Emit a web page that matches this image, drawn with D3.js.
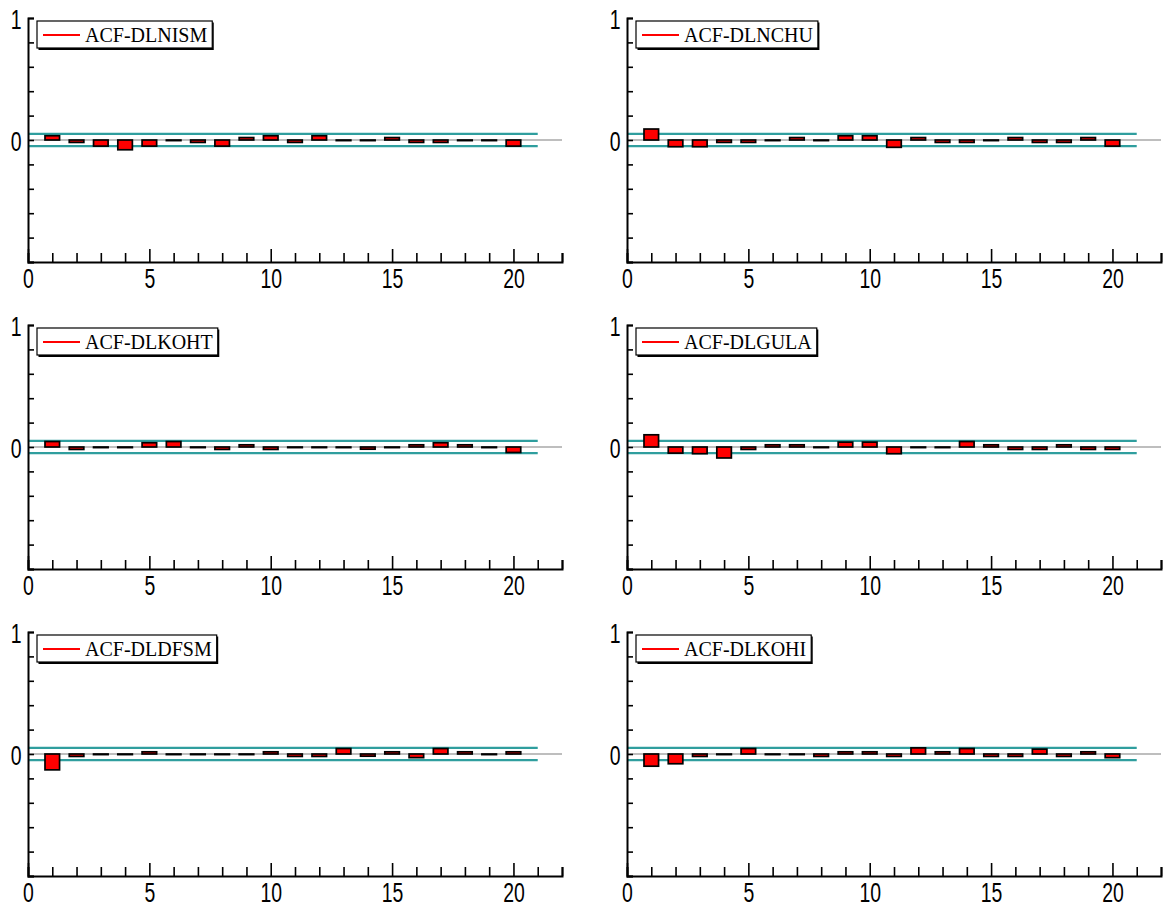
<!DOCTYPE html>
<html>
<head>
<meta charset="utf-8">
<script src="https://cdn.jsdelivr.net/npm/d3@7"></script>
<style>
html,body{margin:0;padding:0;background:#fff;}
svg{display:block;}
</style>
</head>
<body>
<svg id="chart" width="1164" height="909"></svg>
<script>
// ---- data ----
const lags = d3.range(1, 21);
const seriesNames = ["ACF-DLNISM", "ACF-DLNCHU", "ACF-DLKOHT", "ACF-DLGULA", "ACF-DLDFSM", "ACF-DLKOHI"];
const acfDLNISM = [0.035, -0.02, -0.05, -0.08, -0.05, -0.005, -0.02, -0.05, 0.02, 0.035, -0.02, 0.035, -0.005, -0.005, 0.02, -0.02, -0.02, -0.005, -0.005, -0.05];
const acfDLNCHU = [0.09, -0.055, -0.055, -0.02, -0.02, -0.005, 0.02, -0.005, 0.035, 0.035, -0.06, 0.02, -0.02, -0.02, -0.005, 0.02, -0.02, -0.02, 0.02, -0.05];
const acfDLKOHT = [0.045, -0.02, -0.005, -0.005, 0.035, 0.045, -0.005, -0.02, 0.018, -0.02, -0.005, -0.005, -0.005, -0.018, -0.005, 0.018, 0.035, 0.018, -0.005, -0.045];
const acfDLGULA = [0.1, -0.05, -0.055, -0.09, -0.02, 0.018, 0.018, -0.005, 0.04, 0.04, -0.055, -0.005, -0.005, 0.045, 0.018, -0.02, -0.02, 0.018, -0.02, -0.02];
const acfDLDFSM = [-0.13, -0.02, -0.005, -0.005, 0.018, -0.005, -0.005, -0.005, -0.005, 0.018, -0.02, -0.02, 0.045, -0.018, 0.018, -0.03, 0.045, 0.018, -0.005, 0.018];
const acfDLKOHI = [-0.1, -0.08, -0.02, -0.005, 0.045, -0.005, -0.005, -0.02, 0.018, 0.018, -0.02, 0.05, 0.018, 0.045, -0.02, -0.02, 0.04, -0.02, 0.018, -0.03];
const bandLimit = 0.05;
const xTickValues = d3.range(0, 23);
const xTickLabels = [0, 5, 10, 15, 20];
const yTickValues = d3.range(0, 11).map(i => -1 + i * 0.2);
const yTickLabels = [0, 1];

const allSeries = [acfDLNISM, acfDLNCHU, acfDLKOHT, acfDLGULA, acfDLDFSM, acfDLKOHI];

// ---- layout ----
const svg = d3.select("#chart");
const colX = [28, 627];
const rowY = [18, 325, 632];
const plotW = 534, plotH = 244;
const band = "#2f9e9e";

allSeries.forEach((vals, idx) => {
  const ox = colX[idx % 2], oy = rowY[Math.floor(idx / 2)];
  const x = d3.scaleLinear().domain([0, 22]).range([ox, ox + plotW]);
  const y = d3.scaleLinear().domain([-1, 1]).range([oy + plotH, oy]);
  const g = svg.append("g");

  // confidence bands
  g.selectAll("line.band").data([bandLimit, -bandLimit]).join("line")
    .attr("x1", x(0)).attr("x2", x(21))
    .attr("y1", d => y(d)).attr("y2", d => y(d))
    .attr("stroke", band).attr("stroke-width", 2.2);

  // zero line
  g.append("line")
    .attr("x1", x(0)).attr("x2", x(22))
    .attr("y1", y(0)).attr("y2", y(0))
    .attr("stroke", "#a8a8a8").attr("stroke-width", 1.6);

  // bars
  const bw = x(0.6) - x(0);
  g.selectAll("rect.bar").data(vals.map((v, i) => ({lag: lags[i], v}))).join("rect")
    .attr("x", d => x(d.lag) - bw / 2)
    .attr("width", bw)
    .attr("y", d => Math.min(y(d.v), y(0)))
    .attr("height", d => Math.abs(y(d.v) - y(0)))
    .attr("fill", "#ff0000")
    .attr("stroke", "#000").attr("stroke-width", 1.7);

  // x axis
  const xAxis = d3.axisBottom(x).tickValues(xTickValues).tickSizeOuter(0)
    .tickSize(-9)
    .tickFormat(d => xTickLabels.includes(d) ? String(d) : "");
  const gx = g.append("g").attr("transform", `translate(0,${y(-1)})`).call(xAxis);
  gx.select(".domain").attr("stroke-width", 2);
  gx.selectAll(".tick line").attr("stroke-width", 1.6)
    .attr("y2", d => xTickLabels.includes(d) ? -13 : -9);
  gx.selectAll(".tick text")
    .attr("y", 26).attr("dy", 0)
    .attr("font-family", "Liberation Sans, Arial, sans-serif")
    .attr("font-size", 27)
    .attr("fill", "#000")
    .attr("transform", "scale(0.72,1)");

  // y axis
  const yAxis = d3.axisLeft(y).tickValues(yTickValues).tickSizeOuter(0)
    .tickSize(-6)
    .tickFormat(d => {
      const m = yTickLabels.find(t => Math.abs(t - d) < 1e-9);
      return m === undefined ? "" : String(m);
    });
  const gy = g.append("g").attr("transform", `translate(${x(0)},0)`).call(yAxis);
  gy.select(".domain").attr("stroke-width", 2);
  gy.selectAll(".tick line").attr("stroke-width", 1.6);
  gy.selectAll(".tick text")
    .attr("x", -9).attr("dy", "0.37em")
    .attr("text-anchor", "end")
    .attr("font-family", "Liberation Sans, Arial, sans-serif")
    .attr("font-size", 27)
    .attr("fill", "#000")
    .attr("transform", "scale(0.72,1)");

  // legend
  const lg = g.append("g").attr("transform", `translate(${ox + 9},${oy + 3})`);
  const shadow = lg.append("rect").attr("fill", "#000");
  const box = lg.append("rect").attr("fill", "#fff").attr("stroke", "#000").attr("stroke-width", 1.2);
  lg.append("line").attr("x1", 6).attr("x2", 43).attr("y1", 14).attr("y2", 14)
    .attr("stroke", "#ff0000").attr("stroke-width", 2);
  const t = lg.append("text").attr("x", 48).attr("y", 21)
    .attr("font-family", "Liberation Serif, Times New Roman, serif")
    .attr("font-size", 20).attr("fill", "#000")
    .text(seriesNames[idx]);
  const tw = t.node().getComputedTextLength();
  const bwid = 48 + tw + 5;
  box.attr("x", 0).attr("y", 0).attr("width", bwid).attr("height", 27);
  shadow.attr("x", 1.5).attr("y", 1.5).attr("width", bwid).attr("height", 27.5);
});
</script>
</body>
</html>
